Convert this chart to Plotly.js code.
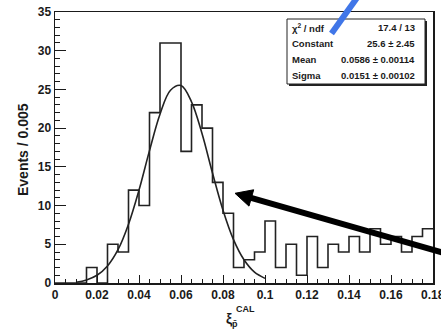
<!DOCTYPE html>
<html>
<head>
<meta charset="utf-8">
<script src="https://cdn.plot.ly/plotly-3.0.1.min.js"></script>
<style>html,body{margin:0;padding:0;background:#fff}#chart{width:441px;height:330px}</style>
</head>
<body>
<div id="chart"></div>
<script>
// ---- data ----
const binLow = [0.000,0.005,0.010,0.015,0.020,0.025,0.030,0.035,0.040,0.045,
                0.050,0.055,0.060,0.065,0.070,0.075,0.080,0.085,0.090,0.095,
                0.100,0.105,0.110,0.115,0.120,0.125,0.130,0.135,0.140,0.145,
                0.150,0.155,0.160,0.165,0.170,0.175];
const counts = [0,0,0,2,0,5,4,12,10,22,
                31,31,17,23,20,13,9,2,3,4,
                8,2,5,1,6,2,5,4,6,4,
                7,5,6,4,6,7];
const binWidth = 0.005;
const fitX = [0.010,0.015,0.020,0.025,0.030,0.035,0.040,0.045,0.050,0.055,
              0.060,0.065,0.070,0.075,0.080,0.085,0.090,0.095,0.100];
const fitY = [0.1,0.4,1.0,2.2,4.3,7.6,12.0,17.1,21.8,24.9,
              25.5,23.4,19.3,14.2,9.4,5.6,3.0,1.4,0.6];
const xTickVals = [0,0.02,0.04,0.06,0.08,0.1,0.12,0.14,0.16,0.18];
const xTickText = ['0','0.02','0.04','0.06','0.08','0.1','0.12','0.14','0.16','0.18'];
const yTickVals = [0,5,10,15,20,25,30,35];
const yTickText = ['0','5','10','15','20','25','30','35'];
const statLabels = ['χ<sup>2</sup> / ndf','Constant','Mean','Sigma'];
const statValues = ['17.4 / 13','25.6 ± 2.45','0.0586 ± 0.00114','0.0151 ± 0.00102'];
const yTitle = 'Events / 0.005';

// ---- layout helpers (pixel -> paper) ----
const W = 441, H = 330, ML = 55, MR = 8, MT = 12, MB = 47;
const PW = W - ML - MR, PH = H - MT - MB;
const px = x => (x - ML) / PW;
const py = y => 1 - (y - MT) / PH;

const FONT = 'Liberation Sans, Arial, Helvetica, sans-serif';
const ink = '#1a1a1a';

// histogram step outline
const stepX = binLow.concat([binLow[binLow.length - 1] + binWidth]);
const stepY = counts.concat([counts[counts.length - 1]]);

const traces = [
  {x: stepX, y: stepY, type: 'scatter', mode: 'lines',
   line: {shape: 'hv', color: '#222', width: 1.6}, hoverinfo: 'skip'},
  {x: fitX, y: fitY, type: 'scatter', mode: 'lines',
   line: {shape: 'spline', smoothing: 1, color: '#222', width: 1.6}, hoverinfo: 'skip'}
];

const annotations = [];
const rowY = [27.5, 43.5, 59.5, 75.5];
statLabels.forEach((t, i) => {
  annotations.push({xref: 'paper', yref: 'paper', x: px(290), y: py(rowY[i]),
    xanchor: 'left', yanchor: 'middle', text: t, showarrow: false,
    font: {family: FONT, size: 9.5, color: ink, weight: 'bold'}});
  annotations.push({xref: 'paper', yref: 'paper', x: px(417), y: py(rowY[i]),
    xanchor: 'right', yanchor: 'middle', text: statValues[i], showarrow: false,
    font: {family: FONT, size: 9.5, color: ink, weight: 'bold'}});
});
// y axis title
annotations.push({xref: 'paper', yref: 'paper', x: px(23), y: py(150),
  xanchor: 'center', yanchor: 'middle', textangle: -90, text: yTitle, showarrow: false,
  font: {family: FONT, size: 14, color: ink, weight: 'bold'}});
// x axis title: xi with stacked super/subscripts
annotations.push({xref: 'paper', yref: 'paper', x: px(229), y: py(319),
  xanchor: 'center', yanchor: 'middle', text: 'ξ', showarrow: false,
  font: {family: FONT, size: 14, color: ink, weight: 'bold'}});
annotations.push({xref: 'paper', yref: 'paper', x: px(233.5), y: py(309),
  xanchor: 'left', yanchor: 'middle', text: 'CAL', showarrow: false,
  font: {family: FONT, size: 9, color: ink, weight: 'bold'}});
annotations.push({xref: 'paper', yref: 'paper', x: px(234.5), y: py(323.5),
  xanchor: 'center', yanchor: 'middle', text: 'p̄', showarrow: false,
  font: {family: FONT, size: 9, color: ink, weight: 'bold'}});
// last x tick label, cut by the right edge as in the reference
annotations.push({xref: 'x', yref: 'paper', x: xTickVals[xTickVals.length - 1], y: py(294.5),
  xanchor: 'center', yanchor: 'middle', text: xTickText[xTickText.length - 1], showarrow: false,
  font: {family: FONT, size: 12, color: ink, weight: 'bold'}});

// black arrow geometry (pixels)
const tip = [235, 193.3], tail = [446, 253.5];
const dx = tail[0] - tip[0], dy = tail[1] - tip[1], L = Math.hypot(dx, dy);
const ux = dx / L, uy = dy / L, hl = 17, hw = 8.5;
const bx = tip[0] + ux * hl, by = tip[1] + uy * hl;
const c1 = [bx - uy * hw, by + ux * hw], c2 = [bx + uy * hw, by - ux * hw];
const P = (p) => px(p[0]) + ' ' + py(p[1]);

const shapes = [
  // stats box shadow + box
  {type: 'rect', xref: 'paper', yref: 'paper', x0: px(289), x1: px(427), y0: py(86), y1: py(21),
   fillcolor: '#222', line: {width: 0}},
  {type: 'rect', xref: 'paper', yref: 'paper', x0: px(287), x1: px(425), y0: py(84), y1: py(19),
   fillcolor: '#fff', line: {color: '#222', width: 1}},
  // blue stroke
  {type: 'line', xref: 'paper', yref: 'paper', x0: px(359), y0: py(-5), x1: px(331.5), y1: py(33.5),
   line: {color: 'rgb(64,118,232)', width: 6}},
  // black arrow shaft and head
  {type: 'line', xref: 'paper', yref: 'paper', x0: px(bx - ux * 3), y0: py(by - uy * 3), x1: px(tail[0]), y1: py(tail[1]),
   line: {color: '#000', width: 6}},
  {type: 'path', xref: 'paper', yref: 'paper', path: 'M ' + P(tip) + ' L ' + P(c1) + ' L ' + P(c2) + ' Z',
   fillcolor: '#000', line: {color: '#000', width: 1}}
];

const axisFont = {family: FONT, size: 12, color: ink, weight: 'bold'};
const layout = {
  width: W, height: H,
  margin: {l: ML, r: MR, t: MT, b: MB, pad: 0},
  paper_bgcolor: '#fff', plot_bgcolor: '#fff',
  showlegend: false,
  xaxis: {range: [0, 0.18], tickvals: xTickVals, ticktext: xTickText,
    ticks: 'inside', ticklen: 8, tickwidth: 1, tickcolor: ink,
    minor: {dtick: binWidth, ticks: 'inside', ticklen: 4, tickwidth: 1, tickcolor: ink, showgrid: false},
    showline: true, linecolor: ink, linewidth: 1.5, mirror: true,
    showgrid: false, zeroline: false, tickfont: axisFont, automargin: false},
  yaxis: {range: [0, 35], tickvals: yTickVals, ticktext: yTickText,
    ticks: 'inside', ticklen: 11, tickwidth: 1, tickcolor: ink,
    minor: {dtick: 1, ticks: 'inside', ticklen: 5, tickwidth: 1, tickcolor: ink, showgrid: false},
    showline: true, linecolor: ink, linewidth: 1.5, mirror: true,
    showgrid: false, zeroline: false, tickfont: axisFont, automargin: false},
  annotations: annotations,
  shapes: shapes
};

Plotly.newPlot('chart', traces, layout, {staticPlot: true, displayModeBar: false});
</script>
</body>
</html>
